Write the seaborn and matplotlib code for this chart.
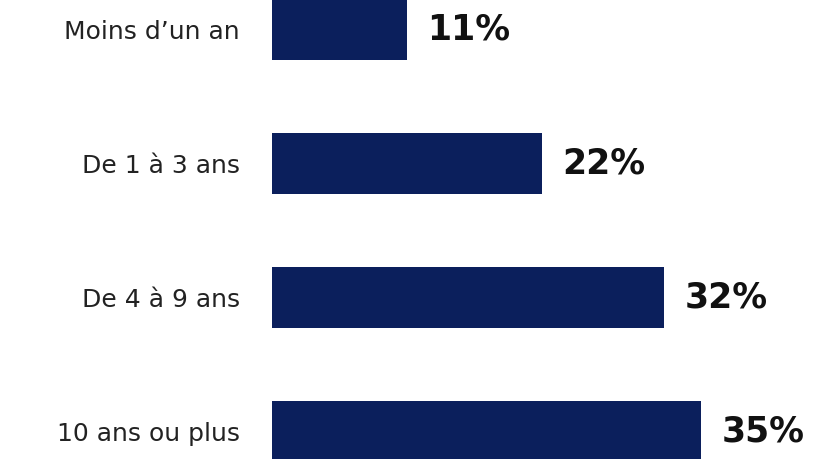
import matplotlib
matplotlib.use("Agg")
import matplotlib.pyplot as plt
import seaborn as sns
import pandas as pd

categories = ["Moins d\u2019un an", "De 1 à 3 ans", "De 4 à 9 ans", "10 ans ou plus"]
values = [11, 22, 32, 35]

df = pd.DataFrame({"cat": categories, "val": values})

sns.set_theme(style="white")
plt.rcParams['font.family'] = ['DejaVu Sans']

fig = plt.figure(figsize=(8.18, 4.59), dpi=100)
ax = fig.add_axes([272/818, 0, 1 - 272/818, 1])

sns.barplot(data=df, x="val", y="cat", orient="h", color="#0B1F5C",
            saturation=1, width=0.45, linewidth=0, ax=ax)

ax.set_xlim(0, 546/12.25)
ax.set_ylim((459 - 29.5)/134, -29.5/134)

for c in ax.containers:
    ax.bar_label(c, labels=[f"{v}%" for v in values], padding=15,
                 fontsize=25, fontweight="bold", color="#111111")

ax.set_xlabel("")
ax.set_ylabel("")
ax.set_xticks([])
ax.tick_params(axis="y", length=0, pad=23, labelsize=18, labelcolor="#222222")
for s in ax.spines.values():
    s.set_visible(False)

fig.savefig("out.png", dpi=100)
